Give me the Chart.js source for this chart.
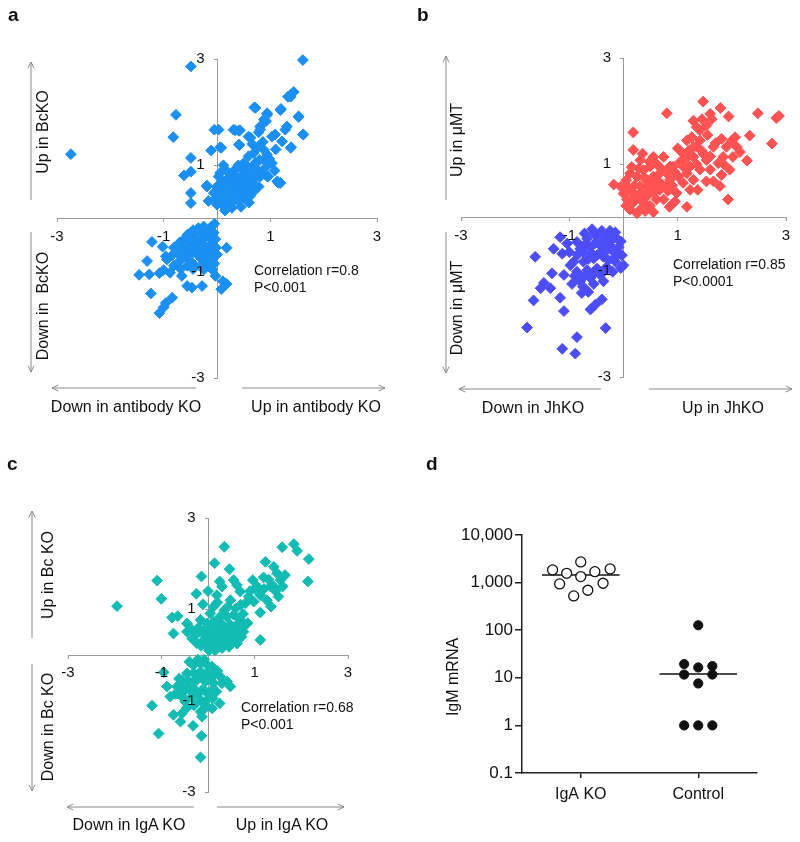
<!DOCTYPE html>
<html>
<head>
  <title>Quadrant correlation plots and IgM mRNA</title>
  <meta charset="UTF-8">
  <script src="https://cdn.jsdelivr.net/npm/chart.js"></script>
  <style>
    body {
      margin: 0;
      background: white;
      font-family: "Liberation Sans", Arial, sans-serif;
      color: #111;
    }
    #page {
      position: relative;
      width: 800px;
      height: 842px;
      overflow: hidden;
    }
    canvas, svg {
      position: absolute;
    }
    .txt {
      position: absolute;
      white-space: nowrap;
      font-size: 16px;
      line-height: 18px;
      transform: translate(-50%, -50%);
    }
    .vert {
      transform: translate(-50%, -50%) rotate(-90deg);
    }
    .corr {
      position: absolute;
      font-size: 14px;
      line-height: 17px;
      white-space: nowrap;
    }
    .letter {
      position: absolute;
      font-weight: bold;
      font-size: 19px;
    }
  </style>
</head>
<body>
<div id="page">
  <canvas id="chartA" width="400" height="420" style="left:0;top:0"></canvas>
  <canvas id="chartB" width="400" height="420" style="left:400px;top:0"></canvas>
  <canvas id="chartC" width="400" height="402" style="left:0;top:440px"></canvas>
  <canvas id="chartD" width="400" height="402" style="left:400px;top:440px"></canvas>
  <svg id="arrows" width="800" height="842" style="left:0;top:0"></svg>

  <div class="letter" style="left:8px;top:4px">a</div>
  <div class="letter" style="left:417px;top:4px">b</div>
  <div class="letter" style="left:7px;top:453px">c</div>
  <div class="letter" style="left:426px;top:453px">d</div>

  <div class="txt vert" style="left:43px;top:132px">Up in BcKO</div>
  <div class="txt vert" style="left:43px;top:306px">Down in&nbsp; BcKO</div>
  <div class="txt" style="left:126px;top:407px">Down in antibody KO</div>
  <div class="txt" style="left:316px;top:407px">Up in antibody KO</div>
  <div class="corr" style="left:254px;top:262px">Correlation r=0.8<br>P&lt;0.001</div>

  <div class="txt vert" style="left:457px;top:140px">Up in &mu;MT</div>
  <div class="txt vert" style="left:457px;top:308px">Down in &mu;MT</div>
  <div class="txt" style="left:533px;top:408px">Down in JhKO</div>
  <div class="txt" style="left:723px;top:408px">Up in JhKO</div>
  <div class="corr" style="left:673px;top:256px">Correlation r=0.85<br>P&lt;0.0001</div>

  <div class="txt vert" style="left:48px;top:575px">Up in Bc KO</div>
  <div class="txt vert" style="left:48px;top:727px">Down in Bc KO</div>
  <div class="txt" style="left:129px;top:825px">Down in IgA KO</div>
  <div class="txt" style="left:282px;top:825px">Up in IgA KO</div>
  <div class="corr" style="left:241px;top:699px">Correlation r=0.68<br>P&lt;0.001</div>

  <div class="txt vert" style="left:453px;top:677px">IgM mRNA</div>
</div>

<script>
// tick values shared by the three quadrant plots
const quadTicks = [-3, -1, 1, 3];

// panel a: antibody KO vs BcKO
const pointsA = [
  [1.61,2.98],[-0.49,2.86],[-2.74,1.21],[-0.77,1.95],[-0.82,1.53],[-0.49,1.14],[-0.62,0.81],[-0.49,0.88],
  [-0.49,0.48],[-0.49,0.29],[-0.19,0.62],[-0.11,1.28],[-0.05,1.67],[0.03,1.67],[0.06,1.34],[0.34,1.66],
  [0.43,1.66],[0.42,1.38],[0.70,2.09],[1.20,2.06],[0.94,1.95],[0.92,1.83],[1.38,2.33],[1.44,2.38],
  [1.33,2.29],[1.53,1.91],[1.61,1.58],[1.39,1.34],[1.22,1.45],[1.31,1.73],[1.09,1.58],[0.59,1.54],
  [0.78,1.62],[0.81,1.73],[0.88,1.86],[1.19,0.67],[1.13,0.70],[1.03,1.04],[0.94,1.20],[0.69,1.23],
  [0.59,1.17],[0.50,1.04],[0.56,0.98],[0.75,0.92],[0.90,0.95],[0.81,0.79],[0.94,0.79],[0.62,0.42],
  [0.70,0.64],[0.56,0.60],[-0.16,0.33],[0.06,0.86],[0.25,0.83],[0.31,0.73],[0.44,0.79],[0.00,0.60],
  [0.13,0.54],[0.25,0.51],[0.38,0.60],[0.50,0.67],[0.06,0.36],[0.19,0.36],[0.31,0.33],[0.44,0.42],
  [0.00,0.26],[0.25,0.26],[-0.06,0.48],[0.09,0.70],[0.34,0.92],[0.53,0.86],[0.66,0.79],[0.59,0.70],
  [0.78,0.60],[0.69,0.51],[0.56,0.45],[0.41,0.33],[0.13,0.23],[0.31,0.45],[0.22,0.64],[0.03,0.79],
  [0.47,0.54],[0.31,1.67],[0.41,1.65],[0.72,2.08],[0.94,1.98],[1.19,2.04],[1.53,1.92],[1.38,2.29],
  [0.81,1.67],[0.63,1.52],[1.03,1.54],[1.28,1.67],[1.38,1.33],[1.62,1.58],[0.41,1.39],[0.08,1.33],
  [0.88,1.29],[1.00,1.05],[1.15,0.67],[0.96,0.79],[-0.19,0.60],
  [0.10,0.45],[0.20,0.75],[0.35,0.55],[0.45,0.68],[0.55,0.80],[0.65,0.95],[0.72,1.05],[0.80,1.10],
  [0.85,0.88],[0.62,0.55],[0.52,0.38],[0.38,0.40],[0.28,0.62],[0.15,0.60],[0.05,0.50],[0.18,0.90],
  [0.40,1.00],[0.48,0.92],[0.70,0.75],[0.88,1.10],[0.98,1.12],[1.08,0.90],[0.76,1.34],[0.66,1.40],
  [0.86,1.44],[1.10,1.30],[0.28,0.20],[0.45,0.22],[0.60,0.30],[-0.05,0.35],[0.15,0.15],[0.35,0.78],
  [0.12,1.00],
  [-1.22,-0.44],[-1.02,-0.53],[-0.96,-0.71],[-1.31,-0.80],[-1.46,-1.06],[-1.27,-1.05],[-1.08,-1.03],
  [-1.00,-0.97],[-0.88,-1.02],[-0.66,-1.08],[-0.56,-1.27],[-0.47,-1.30],[-0.28,-1.27],[-1.24,-1.41],
  [-1.08,-1.78],[-1.00,-1.67],[-0.96,-1.59],[-0.84,-1.49],[0.08,-1.33],[0.18,-1.23],[0.11,-1.18],
  [-0.03,-1.08],[-0.09,-0.96],[0.18,-0.55],[-0.41,-0.89],[-0.25,-0.83],[-0.16,-0.71],[-0.16,-0.21],
  [-0.06,-0.27],[-0.31,-0.27],[-0.44,-0.36],[-0.62,-0.39],[-0.81,-0.55],[-0.75,-0.64],[-0.62,-0.55],
  [-0.50,-0.52],[-0.38,-0.46],[-0.25,-0.39],[-0.13,-0.36],[-0.03,-0.39],[-0.56,-0.68],[-0.44,-0.64],
  [-0.31,-0.58],[-0.19,-0.55],[-0.06,-0.52],[-0.70,-0.80],[-0.50,-0.80],[-0.31,-0.74],[-0.13,-0.77],
  [0.00,-0.68],[-0.81,-0.89],[-0.25,-0.96],[-0.94,-0.77],[-0.56,-0.89],[-0.38,-0.55],[-0.16,-0.27],
  [-0.28,-0.42],[-0.10,-0.15],
  [-0.70,-0.45],[-0.55,-0.30],[-0.45,-0.22],[-0.35,-0.18],[-0.25,-0.15],[-0.05,-0.10],[-0.12,-0.50],
  [-0.20,-0.65],[-0.35,-0.68],[-0.48,-0.62],[-0.60,-0.72],[-0.65,-0.62],[-0.40,-0.40],[-0.30,-0.48],
  [-0.10,-0.62],[-0.05,-0.85],[-0.15,-0.90],[-0.45,-0.95],[-0.68,-0.95],[-0.85,-0.70],[-0.02,-0.55],
  [-0.52,-0.42]
];

// panel b: JhKO vs muMT, up (red) and down (blue)
const pointsBUp = [
  [1.47,2.18],[0.80,1.96],[1.79,2.06],[1.94,1.90],[2.48,1.96],[2.82,1.87],[2.87,1.91],[2.74,1.39],
  [2.33,1.54],[2.28,1.07],[2.06,1.51],[2.09,1.33],[2.15,1.23],[1.81,1.48],[1.63,1.85],[1.53,1.73],
  [1.41,1.64],[1.29,1.82],[1.26,1.51],[1.35,1.33],[1.47,1.20],[1.66,1.33],[1.75,1.02],[1.96,0.90],
  [1.93,0.34],[1.78,0.59],[1.66,0.68],[1.37,0.52],[1.17,0.20],[0.18,1.60],[0.18,1.27],[-0.18,0.62],
  [0.12,0.83],[0.31,1.08],[0.55,1.14],[0.74,1.14],[0.92,0.96],[1.10,1.20],[1.10,0.96],[1.17,0.83],
  [1.29,0.71],[1.41,0.90],[0.98,0.46],[0.80,0.59],[0.06,0.59],[0.18,0.46],[0.31,0.59],[0.43,0.71],
  [0.55,0.77],[0.67,0.83],[0.80,0.83],[0.18,0.28],[0.31,0.34],[0.43,0.40],[0.55,0.46],[0.67,0.52],
  [0.12,0.15],[0.31,0.15],[0.49,0.22],[0.61,0.34],[0.37,0.89],[0.49,0.96],[0.25,0.77],[0.06,0.34],
  [0.86,0.71],[0.74,0.34],[0.43,0.59],[0.58,0.62],[0.31,0.46],[1.01,0.77],[1.10,0.65],[1.23,0.96],
  [1.29,1.14],[1.53,1.08],[1.60,0.90],[1.84,1.14],[1.90,1.33],[2.02,1.14],[1.81,0.80],[1.53,0.68],
  [1.23,0.52],[0.86,0.96],[1.41,1.45],[1.17,1.45],[1.29,1.33],[0.00,0.45],[0.20,0.60],[0.40,0.25],
  [0.05,0.70],[0.12,0.50],[0.22,0.38],[0.35,0.30],[0.45,0.50],[0.52,0.60],[0.62,0.70],[0.72,0.62],
  [0.82,0.50],[0.90,0.60],[0.95,0.85],[0.38,0.75],[0.28,0.92],[0.15,0.95],[0.48,1.05],[0.62,1.00],
  [0.70,0.92],[0.25,0.08],[0.05,0.22],[0.55,0.10],[0.40,0.12],[1.05,1.05],[1.15,1.10],[1.35,1.00],
  [1.45,1.25],[1.60,1.15],[1.70,1.40],[1.55,1.55],[1.35,1.70],[1.20,1.25],[1.00,1.30],[0.95,0.30],
  [0.85,0.20],[-0.05,0.58],[0.35,1.20],[1.85,1.00],[2.00,1.45],[1.45,1.85],[1.60,1.95]
];
const pointsBDown = [
  [-0.58,-0.22],[-0.25,-0.25],[-1.17,-0.37],[-1.04,-0.49],[-1.29,-0.59],[-1.63,-0.74],[-1.13,-0.68],
  [-0.86,-0.46],[-0.74,-0.65],[-1.32,-1.05],[-1.10,-1.08],[-1.47,-1.23],[-1.53,-1.33],[-1.35,-1.33],
  [-1.17,-1.51],[-1.66,-1.56],[-1.10,-1.76],[-1.78,-2.07],[-1.13,-2.47],[-0.89,-2.56],[-0.86,-2.25],
  [-0.33,-2.08],[-0.61,-1.73],[-0.52,-1.64],[-0.40,-1.54],[-0.77,-1.42],[-0.37,-1.20],[0.00,-0.90],
  [-0.03,-0.71],[-0.18,-0.77],[-0.67,-0.40],[-0.49,-0.34],[-0.31,-0.34],[-0.12,-0.40],[-0.80,-0.59],
  [-0.61,-0.56],[-0.43,-0.52],[-0.25,-0.52],[-0.09,-0.56],[-0.92,-0.83],[-0.74,-0.83],[-0.55,-0.77],
  [-0.37,-0.74],[-0.18,-0.65],[-0.86,-1.02],[-0.67,-0.99],[-0.49,-0.96],[-0.31,-0.93],[-0.80,-1.20],
  [-0.61,-1.14],[-0.43,-1.08],[-0.98,-0.90],[-0.15,-0.83],[-0.40,-0.65],[-0.58,-0.68],[-0.20,-0.30],
  [-0.55,-0.30],[-0.40,-0.25],[-0.15,-0.28],[-0.05,-0.45],[-0.22,-0.42],[-0.38,-0.45],[-0.52,-0.48],
  [-0.70,-0.50],[-0.85,-0.70],[-0.65,-0.78],[-0.48,-0.70],[-0.28,-0.80],[-0.10,-0.70],[-0.05,-0.95],
  [-0.20,-1.02],[-0.38,-1.02],[-0.55,-1.05],[-0.72,-1.10],[-0.90,-1.10],[-0.95,-1.25],[-0.75,-1.30],
  [-0.55,-1.25],[-0.65,-1.40],[-0.30,-0.60],[-0.72,-0.30],[-1.00,-0.65]
];

// panel c: IgA KO vs Bc KO
const pointsC = [
  [0.35,2.37],[1.59,2.36],[1.84,2.43],[1.91,2.28],[2.16,2.10],[2.14,1.61],[0.14,2.01],[0.46,1.88],
  [1.23,2.04],[-1.09,1.63],[-1.00,1.23],[-1.95,1.07],[-0.14,1.72],[-0.25,1.34],[-0.11,1.11],[0.25,1.61],
  [0.55,1.64],[0.62,1.53],[0.96,1.64],[1.19,1.70],[1.41,1.93],[1.48,1.79],[1.55,1.64],[1.34,1.50],
  [1.05,1.50],[0.87,1.28],[1.12,1.31],[1.26,1.20],[1.35,1.06],[1.12,0.93],[1.12,0.33],[0.48,1.20],
  [0.19,1.31],[0.12,1.06],[0.05,0.91],[-0.77,0.82],[-0.65,0.85],[-0.74,0.47],[-0.45,0.69],[-0.45,0.51],
  [-0.24,0.26],[-0.34,0.36],[0.69,0.77],[0.76,0.62],[-0.16,0.77],[-0.02,0.69],[0.12,0.73],[0.26,0.84],
  [0.41,0.84],[0.55,0.88],[-0.09,0.51],[0.05,0.55],[0.19,0.58],[0.34,0.62],[0.48,0.66],[0.62,0.66],
  [-0.09,0.33],[0.05,0.33],[0.19,0.36],[0.34,0.40],[0.48,0.44],[0.62,0.47],[0.76,0.51],[-0.02,0.18],
  [0.12,0.22],[0.26,0.24],[0.41,0.26],[0.55,0.33],[-0.34,0.55],[0.69,1.39],[0.80,1.13],[0.59,1.02],
  [0.98,1.17],[1.41,1.50],[1.51,1.28],
  [-0.20,0.60],[-0.05,0.42],[0.08,0.45],[0.22,0.48],[0.28,0.70],[0.40,0.55],[0.52,0.55],[0.58,0.40],
  [0.68,0.58],[0.72,0.40],[0.62,0.25],[0.45,0.18],[0.30,0.15],[0.15,0.10],[0.02,0.10],[-0.15,0.20],
  [-0.25,0.45],[0.35,0.98],[0.42,1.05],[0.20,1.15],[0.70,1.10],[0.90,1.40],[1.00,1.45],[1.20,1.45],
  [1.30,1.65],[1.45,1.40],[1.60,1.50],[1.65,1.75],[0.75,0.90],[0.85,0.70],[0.00,1.40],[0.30,1.50],
  [-0.95,-0.38],[-1.20,-1.11],[-1.06,-1.72],[-0.16,-2.24],[-0.14,-1.77],[-0.32,-1.55],[-0.59,-1.46],
  [-0.74,-1.31],[-0.56,-1.28],[0.48,-0.69],[0.41,-0.58],[0.25,-1.06],[0.09,-1.17],[0.01,-0.95],
  [-0.13,-1.35],[-0.16,-1.24],[-0.88,-0.69],[-0.81,-0.91],[-0.66,-0.84],[-0.49,-1.02],[-0.31,-0.22],
  [-0.16,-0.18],[-0.02,-0.22],[-0.45,-0.40],[-0.31,-0.40],[-0.16,-0.36],[-0.02,-0.40],[0.12,-0.44],
  [-0.56,-0.55],[-0.41,-0.58],[-0.24,-0.55],[-0.06,-0.58],[0.12,-0.62],[-0.66,-0.69],[-0.49,-0.77],
  [-0.31,-0.73],[-0.13,-0.77],[0.05,-0.80],[-0.56,-0.91],[-0.34,-0.91],[-0.16,-0.99],[-0.06,-1.09],
  [0.26,-0.47],[-0.20,-0.12],
  [-0.40,-0.15],[-0.22,-0.10],[-0.08,-0.10],[0.08,-0.25],[0.20,-0.35],[0.05,-0.55],[-0.12,-0.45],
  [-0.28,-0.55],[-0.40,-0.75],[-0.55,-0.70],[-0.62,-0.52],[-0.22,-0.85],[-0.05,-0.80],[0.10,-0.95],
  [-0.30,-1.10],[-0.10,-1.20],[-0.45,-1.15],[0.18,-0.80],[0.30,-0.62],[-0.70,-0.85]
];

// panel d: IgM mRNA per mouse
const dCategories = ['IgA KO', 'Control'];
const dIgaKO = [1845, 1570, 2720, 1700, 1940, 937, 1340, 968, 525, 690];
const dIgaKOJitter = [-0.24, -0.12, 0, 0.12, 0.25, -0.18, 0, 0.19, -0.06, 0.06];
const dControl = [127, 19.4, 16.5, 17.6, 11.7, 11.7, 7.6, 1, 1, 1];
const dControlJitter = [0, -0.12, 0, 0.12, -0.12, 0.12, 0, -0.12, 0, 0.12];
const dMedians = [1450, 12];
const dTickValues = [0.1, 1, 10, 100, 1000, 10000];
const dTickLabels = ['0.1', '1', '10', '100', '1,000', '10,000'];

const FONT = "'Liberation Sans', Arial, sans-serif";
const toXY = arr => arr.map(p => ({x: p[0], y: p[1]}));

function diamondSet(points, color) {
  return {
    data: toXY(points),
    backgroundColor: color,
    borderColor: color,
    borderWidth: 1,
    pointStyle: 'rectRot',
    radius: 5.4,
    clip: false
  };
}

function quadAxis(axis) {
  const other = axis === 'x' ? 'y' : 'x';
  return {
    type: 'linear',
    min: -3,
    max: 3,
    position: {[other]: 0},
    afterFit: s => { if (axis === 'x') s.height = 0; else s.width = 0; },
    afterBuildTicks: s => { s.ticks = quadTicks.map(v => ({value: v})); },
    border: {color: '#9a9a9a', width: 1},
    grid: {drawOnChartArea: false, color: '#9a9a9a', tickLength: 3},
    ticks: {
      z: 1,
      color: '#111',
      padding: 6,
      font: {family: FONT, size: 15},
      callback: v => axis === 'x' ? String(v) : v + '   '
    }
  };
}

function makeQuad(id, datasets, pad) {
  new Chart(document.getElementById(id), {
    type: 'scatter',
    data: {datasets: datasets},
    options: {
      responsive: false,
      animation: false,
      layout: {padding: pad},
      plugins: {legend: {display: false}, tooltip: {enabled: false}},
      scales: {x: quadAxis('x'), y: quadAxis('y')}
    }
  });
}

makeQuad('chartA', [diamondSet(pointsA, '#1b8ff2')],
  {left: 57, right: 23, top: 59, bottom: 42});
makeQuad('chartB', [diamondSet(pointsBUp, '#ff5252'), diamondSet(pointsBDown, '#4d4df7')],
  {left: 61, right: 14, top: 58, bottom: 43});
makeQuad('chartC', [diamondSet(pointsC, '#12bcb3')],
  {left: 68, right: 52, top: 78, bottom: 50});

// panel d
const medianHalf = 0.33;
const dDatasets = [
  {
    data: dIgaKO.map((v, i) => ({x: 1 + dIgaKOJitter[i], y: v})),
    backgroundColor: 'white', borderColor: '#111', borderWidth: 1.3,
    pointStyle: 'circle', radius: 5, clip: false
  },
  {
    data: dControl.map((v, i) => ({x: 2 + dControlJitter[i], y: v})),
    backgroundColor: '#111', borderColor: '#111', borderWidth: 1,
    pointStyle: 'circle', radius: 4.6, clip: false
  }
];
dMedians.forEach((m, i) => {
  dDatasets.push({
    data: [{x: i + 1 - medianHalf, y: m}, {x: i + 1 + medianHalf, y: m}],
    showLine: true, borderColor: '#111', borderWidth: 1.5, radius: 0
  });
});

new Chart(document.getElementById('chartD'), {
  type: 'scatter',
  data: {datasets: dDatasets},
  options: {
    responsive: false,
    animation: false,
    layout: {padding: {left: 0, right: 43, top: 95, bottom: 0}},
    plugins: {legend: {display: false}, tooltip: {enabled: false}},
    scales: {
      x: {
        type: 'linear', min: 0.5, max: 2.5, position: 'bottom',
        afterFit: s => { s.height = 69; },
        afterBuildTicks: s => { s.ticks = dCategories.map((c, i) => ({value: i + 1})); },
        border: {color: '#222', width: 1.5},
        grid: {drawOnChartArea: false, color: '#222', tickLength: 5, lineWidth: 1.5},
        ticks: {color: '#111', padding: 7, font: {family: FONT, size: 16},
          callback: (v, i) => dCategories[i]}
      },
      y: {
        type: 'logarithmic', min: 0.1, max: 10000, position: 'left',
        afterFit: s => { s.width = 122; },
        afterBuildTicks: s => { s.ticks = dTickValues.map(v => ({value: v})); },
        border: {color: '#222', width: 1.5},
        grid: {drawOnChartArea: false, color: '#222', tickLength: 7, lineWidth: 1.5},
        ticks: {color: '#111', padding: 2, font: {family: FONT, size: 17},
          callback: (v, i) => dTickLabels[i]}
      }
    }
  }
});

// direction arrows (decoration only)
const arrowSegs = [
  [31, 200, 31, 62], [31, 232, 31, 372], [196, 388, 52, 388], [242, 388, 385, 388],
  [446, 200, 446, 56], [446, 232, 446, 373], [601, 389, 459, 389], [649, 389, 792, 389],
  [32, 638, 32, 511], [32, 664, 32, 791], [194, 807, 67, 807], [217, 807, 344, 807]
];
const svg = document.getElementById('arrows');
let html = '';
arrowSegs.forEach(([x1, y1, x2, y2]) => {
  const ang = Math.atan2(y2 - y1, x2 - x1);
  const h = 7, spread = 0.45;
  const ax = x2 - h * Math.cos(ang - spread), ay = y2 - h * Math.sin(ang - spread);
  const bx = x2 - h * Math.cos(ang + spread), by = y2 - h * Math.sin(ang + spread);
  html += `<line x1="${x1}" y1="${y1}" x2="${x2}" y2="${y2}" />`;
  html += `<polyline points="${ax},${ay} ${x2},${y2} ${bx},${by}" />`;
});
svg.innerHTML = `<g stroke="#8a8a8a" stroke-width="1" fill="none">${html}</g>`;
</script>
</body>
</html>
